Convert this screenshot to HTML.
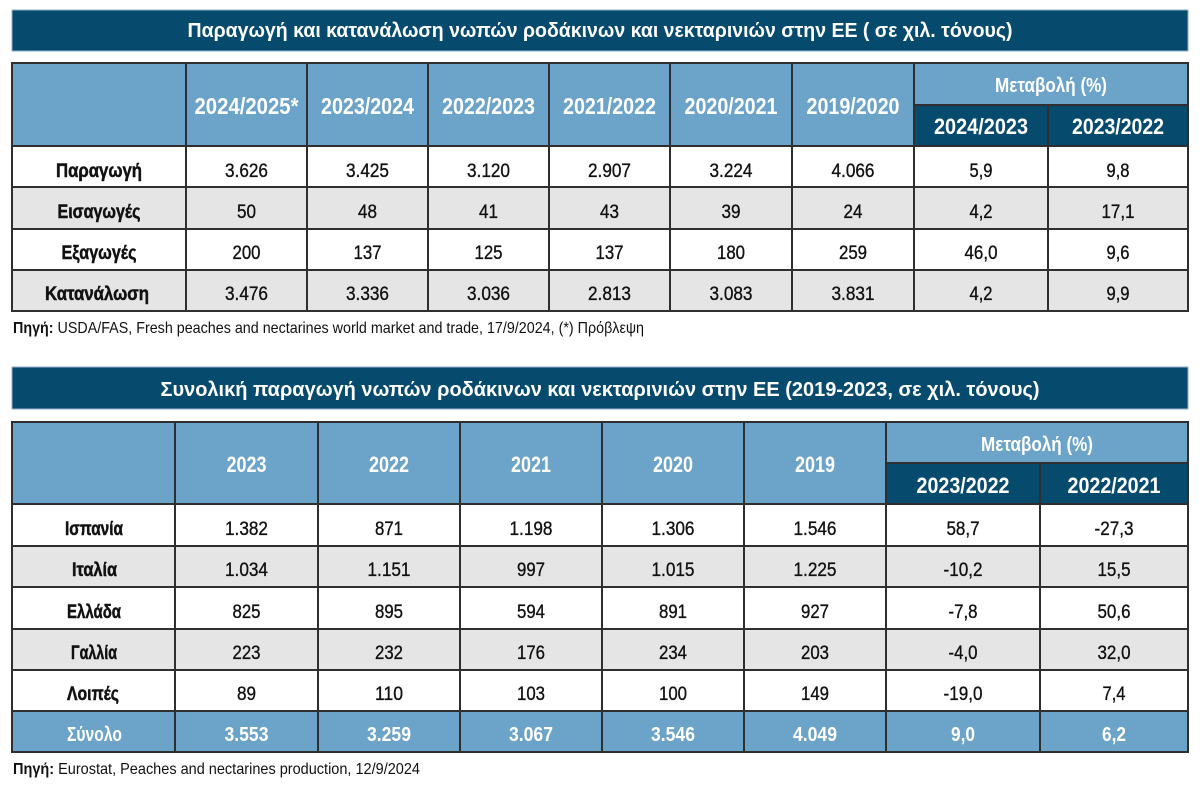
<!DOCTYPE html>
<html><head><meta charset="utf-8">
<style>
html,body{margin:0;padding:0;background:#fff;}
svg{display:block;}
text{font-family:"Liberation Sans","DejaVu Sans",sans-serif;}
.t{font-weight:bold;font-size:20.5px;fill:#fff;}
.h{font-weight:bold;font-size:23.5px;fill:#fff;}
.h2{font-weight:bold;font-size:22.5px;fill:#fff;}
.m{font-weight:bold;font-size:20px;fill:#fff;}
.l{font-weight:bold;font-size:19.5px;fill:#111;stroke:#111;stroke-width:0.5px;}
.n{font-size:19.5px;fill:#111;stroke:#111;stroke-width:0.35px;}
.s{font-weight:bold;font-size:20px;fill:#fff;}
.f{font-size:16px;fill:#111;}
</style></head>
<body>
<svg width="1200" height="810" viewBox="0 0 1200 810" xmlns="http://www.w3.org/2000/svg" text-anchor="middle">
<!-- ===== TABLE 1 ===== -->
<rect x="12" y="10" width="1176" height="41" fill="#064a6e" stroke="#8fb0c8" stroke-width="1"/>
<text class="t" x="600" y="37" textLength="825" lengthAdjust="spacingAndGlyphs">Παραγωγή και κατανάλωση νωπών ροδάκινων και νεκταρινιών στην ΕΕ ( σε χιλ. τόνους)</text>

<rect x="12" y="63" width="1176" height="83" fill="#6ca3c9"/>
<rect x="914" y="105" width="274" height="41" fill="#064a6e"/>
<rect x="12" y="146" width="1176" height="41" fill="#ffffff"/>
<rect x="12" y="187" width="1176" height="42" fill="#e5e5e5"/>
<rect x="12" y="229" width="1176" height="41" fill="#ffffff"/>
<rect x="12" y="270" width="1176" height="41" fill="#e5e5e5"/>

<g stroke="#2f2f2f" stroke-width="2" fill="none">
<line x1="12" y1="63" x2="1188" y2="63"/>
<line x1="914" y1="105" x2="1188" y2="105"/>
<line x1="12" y1="146" x2="1188" y2="146"/>
<line x1="12" y1="187" x2="1188" y2="187"/>
<line x1="12" y1="229" x2="1188" y2="229"/>
<line x1="12" y1="270" x2="1188" y2="270"/>
<line x1="12" y1="311" x2="1188" y2="311"/>
<line x1="12" y1="62" x2="12" y2="312"/>
<line x1="186" y1="63" x2="186" y2="311"/>
<line x1="307" y1="63" x2="307" y2="311"/>
<line x1="428" y1="63" x2="428" y2="311"/>
<line x1="549" y1="63" x2="549" y2="311"/>
<line x1="670" y1="63" x2="670" y2="311"/>
<line x1="792" y1="63" x2="792" y2="311"/>
<line x1="914" y1="63" x2="914" y2="311"/>
<line x1="1048" y1="105" x2="1048" y2="311"/>
<line x1="1188" y1="62" x2="1188" y2="312"/>
</g>

<text class="h" x="246.5" y="114" textLength="104" lengthAdjust="spacingAndGlyphs">2024/2025*</text>
<text class="h" x="367.5" y="114" textLength="93" lengthAdjust="spacingAndGlyphs">2023/2024</text>
<text class="h" x="488.5" y="114" textLength="93" lengthAdjust="spacingAndGlyphs">2022/2023</text>
<text class="h" x="609.5" y="114" textLength="93" lengthAdjust="spacingAndGlyphs">2021/2022</text>
<text class="h" x="731" y="114" textLength="93" lengthAdjust="spacingAndGlyphs">2020/2021</text>
<text class="h" x="853" y="114" textLength="93" lengthAdjust="spacingAndGlyphs">2019/2020</text>
<text class="m" x="1051" y="92" textLength="112" lengthAdjust="spacingAndGlyphs">Μεταβολή (%)</text>
<text class="h2" x="981" y="134" textLength="94" lengthAdjust="spacingAndGlyphs">2024/2023</text>
<text class="h2" x="1118" y="134" textLength="92" lengthAdjust="spacingAndGlyphs">2023/2022</text>

<!-- row 1 -->
<text class="l" x="99" y="177" textLength="86" lengthAdjust="spacingAndGlyphs">Παραγωγή</text>
<text class="n" x="246.5" y="177" textLength="43" lengthAdjust="spacingAndGlyphs">3.626</text>
<text class="n" x="367.5" y="177" textLength="43" lengthAdjust="spacingAndGlyphs">3.425</text>
<text class="n" x="488.5" y="177" textLength="43" lengthAdjust="spacingAndGlyphs">3.120</text>
<text class="n" x="609.5" y="177" textLength="43" lengthAdjust="spacingAndGlyphs">2.907</text>
<text class="n" x="731" y="177" textLength="43" lengthAdjust="spacingAndGlyphs">3.224</text>
<text class="n" x="853" y="177" textLength="43" lengthAdjust="spacingAndGlyphs">4.066</text>
<text class="n" x="981" y="177" textLength="23" lengthAdjust="spacingAndGlyphs">5,9</text>
<text class="n" x="1118" y="177" textLength="23" lengthAdjust="spacingAndGlyphs">9,8</text>
<!-- row 2 -->
<text class="l" x="99" y="218" textLength="83" lengthAdjust="spacingAndGlyphs">Εισαγωγές</text>
<text class="n" x="246.5" y="218" textLength="19" lengthAdjust="spacingAndGlyphs">50</text>
<text class="n" x="367.5" y="218" textLength="19" lengthAdjust="spacingAndGlyphs">48</text>
<text class="n" x="488.5" y="218" textLength="19" lengthAdjust="spacingAndGlyphs">41</text>
<text class="n" x="609.5" y="218" textLength="19" lengthAdjust="spacingAndGlyphs">43</text>
<text class="n" x="731" y="218" textLength="19" lengthAdjust="spacingAndGlyphs">39</text>
<text class="n" x="853" y="218" textLength="19" lengthAdjust="spacingAndGlyphs">24</text>
<text class="n" x="981" y="218" textLength="23" lengthAdjust="spacingAndGlyphs">4,2</text>
<text class="n" x="1118" y="218" textLength="33" lengthAdjust="spacingAndGlyphs">17,1</text>
<!-- row 3 -->
<text class="l" x="99" y="259" textLength="75" lengthAdjust="spacingAndGlyphs">Εξαγωγές</text>
<text class="n" x="246.5" y="259" textLength="28" lengthAdjust="spacingAndGlyphs">200</text>
<text class="n" x="367.5" y="259" textLength="28" lengthAdjust="spacingAndGlyphs">137</text>
<text class="n" x="488.5" y="259" textLength="28" lengthAdjust="spacingAndGlyphs">125</text>
<text class="n" x="609.5" y="259" textLength="28" lengthAdjust="spacingAndGlyphs">137</text>
<text class="n" x="731" y="259" textLength="28" lengthAdjust="spacingAndGlyphs">180</text>
<text class="n" x="853" y="259" textLength="28" lengthAdjust="spacingAndGlyphs">259</text>
<text class="n" x="981" y="259" textLength="33" lengthAdjust="spacingAndGlyphs">46,0</text>
<text class="n" x="1118" y="259" textLength="23" lengthAdjust="spacingAndGlyphs">9,6</text>
<!-- row 4 -->
<text class="l" x="97" y="300" textLength="104" lengthAdjust="spacingAndGlyphs">Κατανάλωση</text>
<text class="n" x="246.5" y="300" textLength="43" lengthAdjust="spacingAndGlyphs">3.476</text>
<text class="n" x="367.5" y="300" textLength="43" lengthAdjust="spacingAndGlyphs">3.336</text>
<text class="n" x="488.5" y="300" textLength="43" lengthAdjust="spacingAndGlyphs">3.036</text>
<text class="n" x="609.5" y="300" textLength="43" lengthAdjust="spacingAndGlyphs">2.813</text>
<text class="n" x="731" y="300" textLength="43" lengthAdjust="spacingAndGlyphs">3.083</text>
<text class="n" x="853" y="300" textLength="43" lengthAdjust="spacingAndGlyphs">3.831</text>
<text class="n" x="981" y="300" textLength="23" lengthAdjust="spacingAndGlyphs">4,2</text>
<text class="n" x="1118" y="300" textLength="23" lengthAdjust="spacingAndGlyphs">9,9</text>

<text class="f" x="13" y="333" text-anchor="start" textLength="631" lengthAdjust="spacingAndGlyphs"><tspan font-weight="bold">Πηγή:</tspan> USDA/FAS, Fresh peaches and nectarines world market and trade, 17/9/2024, (*) Πρόβλεψη</text>

<!-- ===== TABLE 2 ===== -->
<rect x="12" y="367" width="1176" height="42" fill="#064a6e" stroke="#8fb0c8" stroke-width="1"/>
<text class="t" x="600" y="396" textLength="879" lengthAdjust="spacingAndGlyphs">Συνολική παραγωγή νωπών ροδάκινων και νεκταρινιών στην ΕΕ (2019-2023, σε χιλ. τόνους)</text>

<rect x="12" y="422" width="1176" height="82" fill="#6ca3c9"/>
<rect x="886" y="463" width="302" height="41" fill="#064a6e"/>
<rect x="12" y="504" width="1176" height="42" fill="#ffffff"/>
<rect x="12" y="546" width="1176" height="41" fill="#e5e5e5"/>
<rect x="12" y="587" width="1176" height="42" fill="#ffffff"/>
<rect x="12" y="629" width="1176" height="41" fill="#e5e5e5"/>
<rect x="12" y="670" width="1176" height="41" fill="#ffffff"/>
<rect x="12" y="711" width="1176" height="41" fill="#6ca3c9"/>

<g stroke="#2f2f2f" stroke-width="2" fill="none">
<line x1="12" y1="422" x2="1188" y2="422"/>
<line x1="886" y1="463" x2="1188" y2="463"/>
<line x1="12" y1="504" x2="1188" y2="504"/>
<line x1="12" y1="546" x2="1188" y2="546"/>
<line x1="12" y1="587" x2="1188" y2="587"/>
<line x1="12" y1="629" x2="1188" y2="629"/>
<line x1="12" y1="670" x2="1188" y2="670"/>
<line x1="12" y1="711" x2="1188" y2="711"/>
<line x1="12" y1="752" x2="1188" y2="752"/>
<line x1="12" y1="421" x2="12" y2="753"/>
<line x1="175" y1="422" x2="175" y2="752"/>
<line x1="318" y1="422" x2="318" y2="752"/>
<line x1="460" y1="422" x2="460" y2="752"/>
<line x1="602" y1="422" x2="602" y2="752"/>
<line x1="744" y1="422" x2="744" y2="752"/>
<line x1="886" y1="422" x2="886" y2="752"/>
<line x1="1040" y1="463" x2="1040" y2="752"/>
<line x1="1188" y1="421" x2="1188" y2="753"/>
</g>

<text class="h2" x="246.5" y="472" textLength="40" lengthAdjust="spacingAndGlyphs">2023</text>
<text class="h2" x="389" y="472" textLength="40" lengthAdjust="spacingAndGlyphs">2022</text>
<text class="h2" x="531" y="472" textLength="40" lengthAdjust="spacingAndGlyphs">2021</text>
<text class="h2" x="673" y="472" textLength="40" lengthAdjust="spacingAndGlyphs">2020</text>
<text class="h2" x="815" y="472" textLength="40" lengthAdjust="spacingAndGlyphs">2019</text>
<text class="m" x="1037" y="451" textLength="112" lengthAdjust="spacingAndGlyphs">Μεταβολή (%)</text>
<text class="h2" x="963" y="493" textLength="93" lengthAdjust="spacingAndGlyphs">2023/2022</text>
<text class="h2" x="1114" y="493" textLength="93" lengthAdjust="spacingAndGlyphs">2022/2021</text>

<!-- Ισπανία -->
<text class="l" x="94" y="535" textLength="58" lengthAdjust="spacingAndGlyphs">Ισπανία</text>
<text class="n" x="246.5" y="535" textLength="43" lengthAdjust="spacingAndGlyphs">1.382</text>
<text class="n" x="389" y="535" textLength="28" lengthAdjust="spacingAndGlyphs">871</text>
<text class="n" x="531" y="535" textLength="43" lengthAdjust="spacingAndGlyphs">1.198</text>
<text class="n" x="673" y="535" textLength="43" lengthAdjust="spacingAndGlyphs">1.306</text>
<text class="n" x="815" y="535" textLength="43" lengthAdjust="spacingAndGlyphs">1.546</text>
<text class="n" x="963" y="535" textLength="33" lengthAdjust="spacingAndGlyphs">58,7</text>
<text class="n" x="1114" y="535" textLength="39" lengthAdjust="spacingAndGlyphs">-27,3</text>
<!-- Ιταλία -->
<text class="l" x="94.5" y="576" textLength="45" lengthAdjust="spacingAndGlyphs">Ιταλία</text>
<text class="n" x="246.5" y="576" textLength="43" lengthAdjust="spacingAndGlyphs">1.034</text>
<text class="n" x="389" y="576" textLength="43" lengthAdjust="spacingAndGlyphs">1.151</text>
<text class="n" x="531" y="576" textLength="28" lengthAdjust="spacingAndGlyphs">997</text>
<text class="n" x="673" y="576" textLength="43" lengthAdjust="spacingAndGlyphs">1.015</text>
<text class="n" x="815" y="576" textLength="43" lengthAdjust="spacingAndGlyphs">1.225</text>
<text class="n" x="963" y="576" textLength="39" lengthAdjust="spacingAndGlyphs">-10,2</text>
<text class="n" x="1114" y="576" textLength="33" lengthAdjust="spacingAndGlyphs">15,5</text>
<!-- Ελλάδα -->
<text class="l" x="94" y="618" textLength="54" lengthAdjust="spacingAndGlyphs">Ελλάδα</text>
<text class="n" x="246.5" y="618" textLength="28" lengthAdjust="spacingAndGlyphs">825</text>
<text class="n" x="389" y="618" textLength="28" lengthAdjust="spacingAndGlyphs">895</text>
<text class="n" x="531" y="618" textLength="28" lengthAdjust="spacingAndGlyphs">594</text>
<text class="n" x="673" y="618" textLength="28" lengthAdjust="spacingAndGlyphs">891</text>
<text class="n" x="815" y="618" textLength="28" lengthAdjust="spacingAndGlyphs">927</text>
<text class="n" x="963" y="618" textLength="29" lengthAdjust="spacingAndGlyphs">-7,8</text>
<text class="n" x="1114" y="618" textLength="33" lengthAdjust="spacingAndGlyphs">50,6</text>
<!-- Γαλλία -->
<text class="l" x="94" y="659" textLength="46" lengthAdjust="spacingAndGlyphs">Γαλλία</text>
<text class="n" x="246.5" y="659" textLength="28" lengthAdjust="spacingAndGlyphs">223</text>
<text class="n" x="389" y="659" textLength="28" lengthAdjust="spacingAndGlyphs">232</text>
<text class="n" x="531" y="659" textLength="28" lengthAdjust="spacingAndGlyphs">176</text>
<text class="n" x="673" y="659" textLength="28" lengthAdjust="spacingAndGlyphs">234</text>
<text class="n" x="815" y="659" textLength="28" lengthAdjust="spacingAndGlyphs">203</text>
<text class="n" x="963" y="659" textLength="29" lengthAdjust="spacingAndGlyphs">-4,0</text>
<text class="n" x="1114" y="659" textLength="33" lengthAdjust="spacingAndGlyphs">32,0</text>
<!-- Λοιπές -->
<text class="l" x="93" y="700" textLength="52" lengthAdjust="spacingAndGlyphs">Λοιπές</text>
<text class="n" x="246.5" y="700" textLength="19" lengthAdjust="spacingAndGlyphs">89</text>
<text class="n" x="389" y="700" textLength="28" lengthAdjust="spacingAndGlyphs">110</text>
<text class="n" x="531" y="700" textLength="28" lengthAdjust="spacingAndGlyphs">103</text>
<text class="n" x="673" y="700" textLength="28" lengthAdjust="spacingAndGlyphs">100</text>
<text class="n" x="815" y="700" textLength="28" lengthAdjust="spacingAndGlyphs">149</text>
<text class="n" x="963" y="700" textLength="39" lengthAdjust="spacingAndGlyphs">-19,0</text>
<text class="n" x="1114" y="700" textLength="23" lengthAdjust="spacingAndGlyphs">7,4</text>
<!-- Σύνολο -->
<text class="s" x="94.5" y="741" textLength="55" lengthAdjust="spacingAndGlyphs">Σύνολο</text>
<text class="s" x="246.5" y="741" textLength="44" lengthAdjust="spacingAndGlyphs">3.553</text>
<text class="s" x="389" y="741" textLength="44" lengthAdjust="spacingAndGlyphs">3.259</text>
<text class="s" x="531" y="741" textLength="44" lengthAdjust="spacingAndGlyphs">3.067</text>
<text class="s" x="673" y="741" textLength="44" lengthAdjust="spacingAndGlyphs">3.546</text>
<text class="s" x="815" y="741" textLength="44" lengthAdjust="spacingAndGlyphs">4.049</text>
<text class="s" x="963" y="741" textLength="24" lengthAdjust="spacingAndGlyphs">9,0</text>
<text class="s" x="1114" y="741" textLength="24" lengthAdjust="spacingAndGlyphs">6,2</text>

<text class="f" x="13" y="774" text-anchor="start" textLength="407" lengthAdjust="spacingAndGlyphs"><tspan font-weight="bold">Πηγή:</tspan> Eurostat, Peaches and nectarines production, 12/9/2024</text>
</svg>
</body></html>
